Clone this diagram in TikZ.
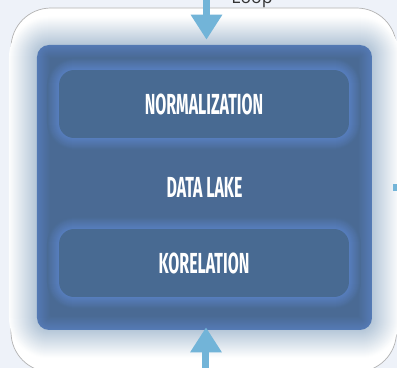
\documentclass[tikz,border=0pt]{standalone}
\usepackage{fontspec}
\usetikzlibrary{arrows.meta}
\newfontfamily\lakefont[FakeStretch=0.55]{Fira Sans}
\newfontfamily\loopfont{Open Sans}
\definecolor{pagebg}{HTML}{EEF2F9}
\definecolor{lakeblue}{HTML}{4A6A94}
\definecolor{boxblue}{HTML}{486A92}
\definecolor{glowblue}{HTML}{5B84CA}
\definecolor{haze}{HTML}{B4C6D8}
\definecolor{arrowblue}{HTML}{72B4D8}
\tikzset{
  lakebox/.style={minimum width=6.7cm, minimum height=5.7cm, inner sep=0pt, text=white,
    font=\lakefont\bfseries\fontsize{16.5}{18}\selectfont},
  stagebox/.style={minimum width=5.8cm, minimum height=1.36cm, rounded corners=0.3cm,
    fill=boxblue, inner sep=0pt, text=white, font=\lakefont\bfseries\fontsize{16.5}{18}\selectfont},
  flow/.style={arrowblue, line width=0.14cm, -{Triangle[width=0.6cm,length=0.5cm]}}
}
\begin{document}
\begin{tikzpicture}[x=0.02cm,y=-0.02cm]
\clip (0,0) rectangle (397,368);
\fill[pagebg] (0,0) rectangle (397,368);
\filldraw[white, draw=black!30, rounded corners=0.8cm] (11,8) rectangle (396.5,372);

% haze round the lake
\foreach \e in {28,27,...,1}{
  \pgfmathsetmacro\p{100-\e*3.5}
  \pgfmathsetmacro\r{0.24+\e*0.02}
  \fill[haze!\p!white, rounded corners=\r cm] (37-\e,45-\e) rectangle (372+\e,330+\e);
}
% lake with inner glow
\fill[glowblue!60!lakeblue, rounded corners=0.24cm] (37,45) rectangle (372,330);
\foreach \e in {1,...,14}{
  \pgfmathsetmacro\p{max(60-\e*4.5,0)}
  \pgfmathsetmacro\r{max(0.24-\e*0.02,0.02)}
  \fill[glowblue!\p!lakeblue, rounded corners=\r cm] (37+\e,45+\e) rectangle (372-\e,330-\e);
}
% glow round the two stages
\foreach \e in {12,11,...,1}{
  \pgfmathsetmacro\p{max(80-\e*6.5,0)}
  \pgfmathsetmacro\r{0.3+\e*0.02}
  \fill[glowblue!\p!lakeblue, rounded corners=\r cm] (59-\e,70-\e) rectangle (349+\e,138+\e);
  \fill[glowblue!\p!lakeblue, rounded corners=\r cm] (59-\e,229-\e) rectangle (349+\e,297+\e);
}

\node[lakebox] (lake) at (204.5,187.5) {DATA LAKE};
\node[stagebox] (norm) at (204,104) {NORMALIZATION};
\node[stagebox] (korel) at (204,263) {KORELATION};

\coordinate (topin) at (206.5,-2);
\coordinate (botin) at (206,372);
\coordinate (sidein) at (393,188);
\coordinate (sideout) at (398,188);
\draw[flow, shorten >=0.1cm] (topin) -- (topin |- lake.north);
\draw[flow, shorten >=-0.06cm] (botin) -- (botin |- lake.south);
\draw[arrowblue, line width=0.14cm] (sidein) -- (sideout);

\node[font=\loopfont\fontsize{10}{12}\selectfont, text=black!80, anchor=base] (looplabel) at (252,3.5) {Loop};
\end{tikzpicture}
\end{document}
